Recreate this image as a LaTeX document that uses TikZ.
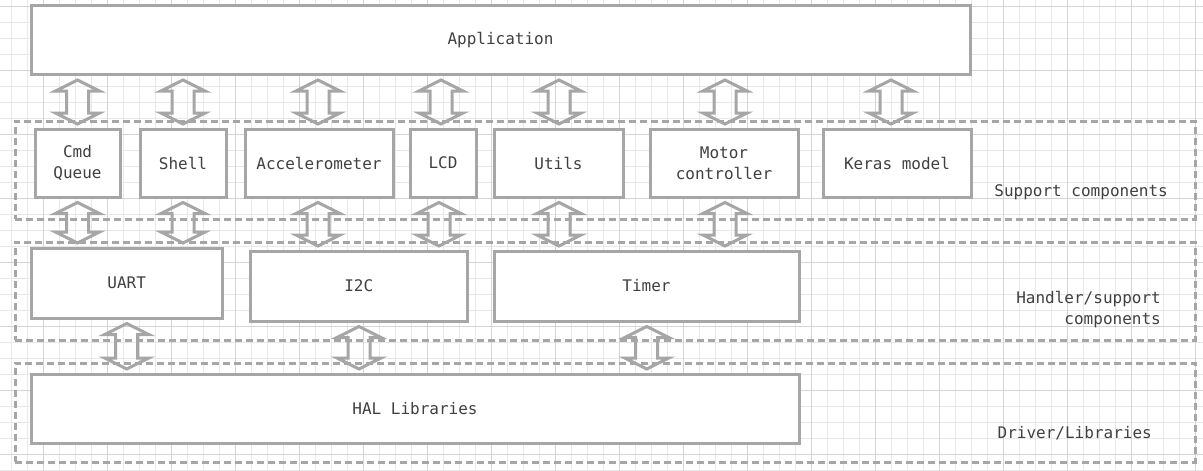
\documentclass[tikz,border=0pt]{standalone}
\usepackage{fontspec}
\setmonofont{DejaVu Sans Mono}
\usetikzlibrary{calc}
\definecolor{boxline}{HTML}{A6A6A6}
\definecolor{txtcol}{HTML}{404040}
\definecolor{gridminor}{HTML}{E8E8E8}
\definecolor{gridmajor}{HTML}{D4D4D4}
\tikzset{
  comp/.style={draw=boxline, line width=3pt, fill=white, inner sep=0pt,
    text=txtcol, align=center, font=\ttfamily\fontsize{16}{21}\selectfont},
  layer/.style={draw=boxline, line width=3pt, dash pattern=on 7pt off 4pt, inner sep=0pt},
  layerlabel/.style={text=txtcol, align=right, inner sep=0pt, font=\ttfamily\fontsize{16}{21}\selectfont},
  blockarr/.style={draw=boxline, line width=3pt, line join=miter},
  gmin/.style={draw=gridminor, line width=1pt},
  gmaj/.style={draw=gridmajor, line width=1pt}
}
% #1 = x centre (px), #2 = upper node, #3 = lower node
\newcommand\mydblarrow[3]{%
  \draw[blockarr] let \p1=(#2.south), \p2=(#3.north) in
    (#1pt,\y1-4pt) -- (#1pt+22pt,\y1-15pt) -- (#1pt+11pt,\y1-15pt)
    -- (#1pt+11pt,\y2+14.5pt) -- (#1pt+22pt,\y2+14.5pt) -- (#1pt,\y2+3.5pt)
    -- (#1pt-22pt,\y2+14.5pt) -- (#1pt-11pt,\y2+14.5pt) -- (#1pt-11pt,\y1-15pt)
    -- (#1pt-22pt,\y1-15pt) -- cycle;}
\begin{document}
\begin{tikzpicture}[x=1pt,y=-1pt]
\useasboundingbox (0,0) rectangle (1203,471);
\fill[white] (0,0) rectangle (1203,471);
% grid
\foreach \x in {11,27,...,1203} \draw[gmin] (\x,0) -- (\x,471);
\foreach \y in {6,22,...,471} \draw[gmin] (0,\y) -- (1203,\y);
\foreach \x in {43,107,...,1203} \draw[gmaj] (\x,0) -- (\x,471);
\foreach \y in {6,70,...,471} \draw[gmaj] (0,\y) -- (1203,\y);
% layer containers
\node[layer, minimum width=1180pt, minimum height=98pt] (suplayer) at (605,170) {};
\node[layer, minimum width=1180pt, minimum height=98pt] (hndlayer) at (605,291) {};
\node[layer, minimum width=1180pt, minimum height=99pt] (drvlayer) at (605,412.5) {};
\node[layerlabel, anchor=east] (suplabel) at (1168,192) {Support components};
\node[layerlabel, anchor=east] (hndlabel) at (1161,309.5) {Handler/support\\components};
\node[layerlabel, anchor=east] (drvlabel) at (1152,433) {Driver/Libraries};
% components
\node[comp, minimum width=939pt, minimum height=69.5pt] (app) at (500.5,39.75) {Application};
\node[comp, minimum width=85pt, minimum height=68pt] (cmd) at (77.5,163) {Cmd\\Queue};
\node[comp, minimum width=86pt, minimum height=68pt] (shell) at (183,163) {Shell};
\node[comp, minimum width=148pt, minimum height=68pt] (acc) at (319,163) {Accelerometer};
\node[comp, minimum width=66pt, minimum height=68pt] (lcd) at (443,163) {LCD};
\node[comp, minimum width=129pt, minimum height=68pt] (utils) at (558.5,163) {Utils};
\node[comp, minimum width=148pt, minimum height=68pt] (motor) at (724,163) {Motor\\controller};
\node[comp, minimum width=148pt, minimum height=68pt] (keras) at (897,163) {Keras model};
\node[comp, minimum width=191.5pt, minimum height=70pt] (uart) at (126.75,283) {UART};
\node[comp, minimum width=217.5pt, minimum height=70pt] (i2c) at (358.75,286) {I2C};
\node[comp, minimum width=305pt, minimum height=70pt] (timer) at (646.5,286) {Timer};
\node[comp, minimum width=768pt, minimum height=69pt] (hal) at (415,408.5) {HAL Libraries};
% arrows: application <-> support components
\mydblarrow{77.5}{app}{cmd}
\mydblarrow{183}{app}{shell}
\mydblarrow{318}{app}{acc}
\mydblarrow{441}{app}{lcd}
\mydblarrow{559}{app}{utils}
\mydblarrow{725}{app}{motor}
\mydblarrow{891}{app}{keras}
% support <-> handler
\mydblarrow{77.5}{cmd}{uart}
\mydblarrow{183}{shell}{uart}
\mydblarrow{318}{acc}{i2c}
\mydblarrow{439}{lcd}{i2c}
\mydblarrow{559}{utils}{timer}
\mydblarrow{725}{motor}{timer}
% handler <-> HAL
\mydblarrow{126.7}{uart}{hal}
\mydblarrow{359}{i2c}{hal}
\mydblarrow{646.7}{timer}{hal}
\end{tikzpicture}
\end{document}
